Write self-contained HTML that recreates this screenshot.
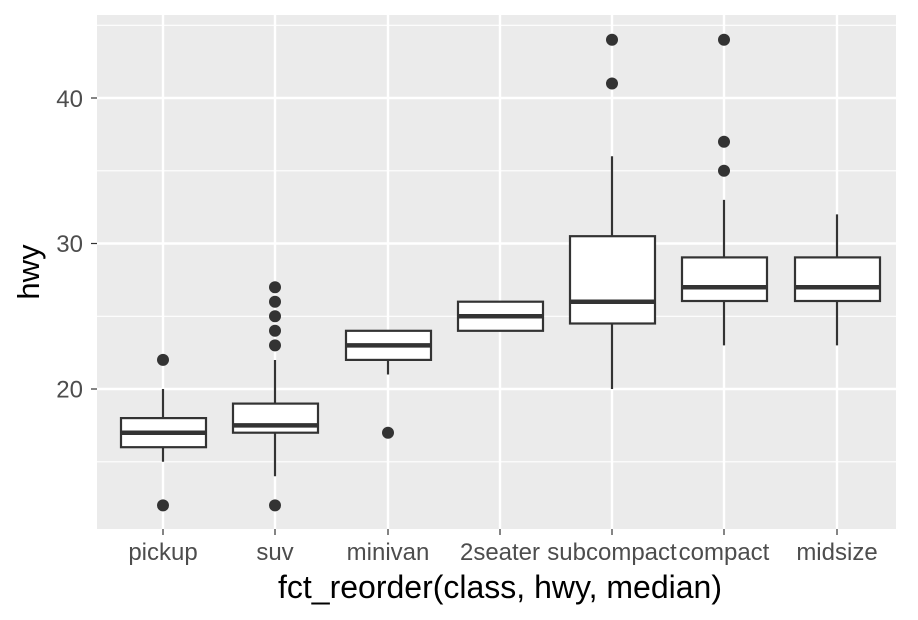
<!DOCTYPE html>
<html><head><meta charset="utf-8"><style>body{margin:0;background:#fff}svg{display:block}</style></head><body>
<svg width="918" height="620" xmlns="http://www.w3.org/2000/svg" font-family="Liberation Sans, sans-serif">
<rect x="97" y="15" width="799" height="514" fill="#ebebeb"/>
<g stroke="#fff" stroke-width="1.2">
<line x1="97" x2="896" y1="461.8" y2="461.8"/><line x1="97" x2="896" y1="316.3" y2="316.3"/><line x1="97" x2="896" y1="170.8" y2="170.8"/><line x1="97" x2="896" y1="25.3" y2="25.3"/>
</g>
<g stroke="#fff" stroke-width="2.4">
<line x1="97" x2="896" y1="389" y2="389"/><line x1="97" x2="896" y1="243.5" y2="243.5"/><line x1="97" x2="896" y1="98" y2="98"/>
<line y1="15" y2="529" x1="163" x2="163"/><line y1="15" y2="529" x1="275" x2="275"/><line y1="15" y2="529" x1="388" x2="388"/><line y1="15" y2="529" x1="500" x2="500"/><line y1="15" y2="529" x1="612" x2="612"/><line y1="15" y2="529" x1="724" x2="724"/><line y1="15" y2="529" x1="837" x2="837"/>
</g>
<g stroke="#333" stroke-width="2.2" fill="#fff">
<line x1="163" x2="163" y1="389" y2="461.8"/><rect x="121" y="418.1" width="85" height="29.1"/><line x1="121" x2="206" y1="432.7" y2="432.7" stroke-width="4.5"/>
<line x1="275" x2="275" y1="360" y2="476.3"/><rect x="233" y="403.6" width="85" height="29.1"/><line x1="233" x2="318" y1="425.4" y2="425.4" stroke-width="4.5"/>
<line x1="388" x2="388" y1="330.8" y2="374.5"/><rect x="346" y="330.8" width="85" height="29.1"/><line x1="346" x2="431" y1="345.4" y2="345.4" stroke-width="4.5"/>
<line x1="500" x2="500" y1="301.7" y2="330.8"/><rect x="458" y="301.7" width="85" height="29.1"/><line x1="458" x2="543" y1="316.3" y2="316.3" stroke-width="4.5"/>
<line x1="612" x2="612" y1="156.2" y2="389"/><rect x="570" y="236.2" width="85" height="87.3"/><line x1="570" x2="655" y1="301.7" y2="301.7" stroke-width="4.5"/>
<line x1="724" x2="724" y1="199.9" y2="345.4"/><rect x="682" y="257.4" width="85" height="43.6"/><line x1="682" x2="767" y1="287.2" y2="287.2" stroke-width="4.5"/>
<line x1="837" x2="837" y1="214.4" y2="345.4"/><rect x="795" y="257.4" width="85" height="43.6"/><line x1="795" x2="880" y1="287.2" y2="287.2" stroke-width="4.5"/>
</g>
<g fill="#333">
<circle cx="163" cy="505.4" r="6"/><circle cx="163" cy="359.9" r="6"/>
<circle cx="275" cy="505.4" r="6"/><circle cx="275" cy="345.4" r="6"/><circle cx="275" cy="330.8" r="6"/><circle cx="275" cy="316.3" r="6"/><circle cx="275" cy="301.7" r="6"/><circle cx="275" cy="287.2" r="6"/>
<circle cx="388" cy="432.7" r="6"/>
<circle cx="612" cy="83.5" r="6"/><circle cx="612" cy="39.8" r="6"/>
<circle cx="724" cy="170.8" r="6"/><circle cx="724" cy="141.7" r="6"/><circle cx="724" cy="39.8" r="6"/>
</g>
<g stroke="#333" stroke-width="1.2">
<line x1="91" x2="97" y1="389" y2="389"/><line x1="91" x2="97" y1="243.5" y2="243.5"/><line x1="91" x2="97" y1="98" y2="98"/>
<line y1="529" y2="535" x1="163" x2="163"/><line y1="529" y2="535" x1="275" x2="275"/><line y1="529" y2="535" x1="388" x2="388"/><line y1="529" y2="535" x1="500" x2="500"/><line y1="529" y2="535" x1="612" x2="612"/><line y1="529" y2="535" x1="724" x2="724"/><line y1="529" y2="535" x1="837" x2="837"/>
</g>
<g fill="#4d4d4d" font-size="24" text-anchor="end">
<text x="83" y="107">40</text><text x="83" y="252">30</text><text x="83" y="397.5">20</text>
</g>
<g fill="#4d4d4d" font-size="24" text-anchor="middle">
<text x="163" y="560">pickup</text><text x="275" y="560">suv</text><text x="388" y="560">minivan</text><text x="500" y="560">2seater</text><text x="612" y="560">subcompact</text><text x="724" y="560">compact</text><text x="837" y="560">midsize</text>
</g>
<text x="500" y="598" font-size="32" text-anchor="middle" fill="#000">fct_reorder(class, hwy, median)</text>
<text transform="translate(39,272) rotate(-90)" font-size="31" text-anchor="middle" fill="#000">hwy</text>
</svg>
</body></html>
